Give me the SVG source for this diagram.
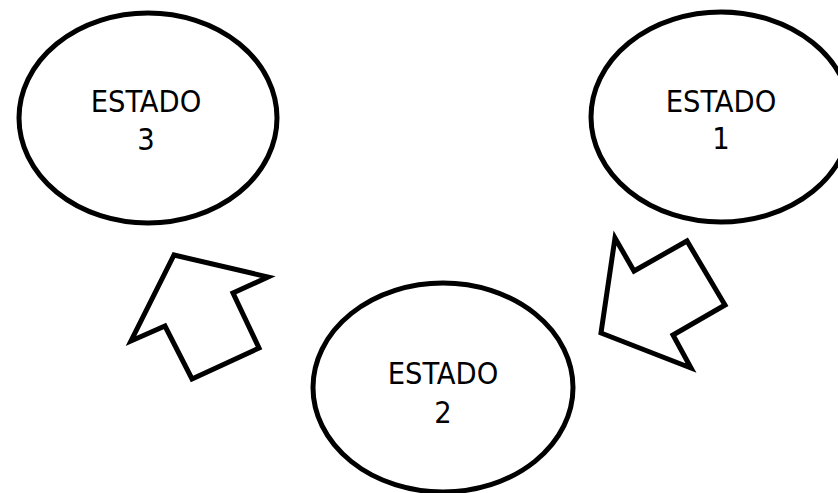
<svg xmlns="http://www.w3.org/2000/svg" width="838" height="493" viewBox="0 0 838 493">
<style>
.node{fill:#fff;stroke:#000;stroke-width:5}
.arrow{fill:#fff;stroke:#000;stroke-width:5;stroke-linejoin:miter}
.lbl{font-family:"DejaVu Sans Condensed","DejaVu Sans",sans-serif;font-size:30.5px;fill:#000;text-anchor:middle}
</style>
<rect width="838" height="493" fill="#fff"/>
<g id="estado3">
<ellipse class="node" cx="148" cy="118" rx="129" ry="105"/>
<text class="lbl" x="146" y="112">ESTADO</text>
<text class="lbl" x="146" y="150">3</text>
</g>
<g id="estado1">
<ellipse class="node" cx="721" cy="117" rx="130" ry="105"/>
<text class="lbl" x="721" y="112">ESTADO</text>
<text class="lbl" x="721" y="149">1</text>
</g>
<g id="estado2">
<ellipse class="node" cx="443" cy="387.5" rx="130" ry="104.5"/>
<text class="lbl" x="443" y="384">ESTADO</text>
<text class="lbl" x="443" y="423">2</text>
</g>
<g id="connectors">
<polygon class="arrow" points="174,255 268,277 233,293 259,348 192,379 165,326 131,341"/>
<polygon class="arrow" points="615,238 634,271 687,241 725,305 673,335 691,368 601,333"/>
</g>
</svg>
